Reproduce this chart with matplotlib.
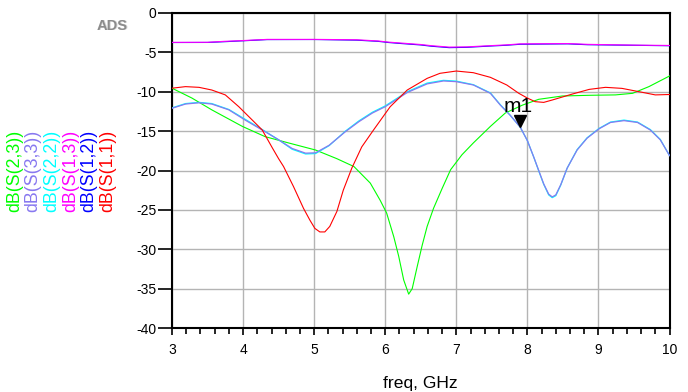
import numpy as np
import matplotlib
matplotlib.use('Agg')
import matplotlib.pyplot as plt
from matplotlib.ticker import MultipleLocator

plt.rcParams['font.family'] = ['Liberation Sans', 'DejaVu Sans']
plt.rcParams['axes.unicode_minus'] = False

# dB(S(2,3)) - green
f23 = [3.0, 3.28, 3.56, 3.99, 4.31, 4.64, 5.02, 5.32, 5.56, 5.79, 5.93, 6.02, 6.12, 6.19, 6.26, 6.33, 6.38, 6.45, 6.52, 6.59,
       6.68, 6.8, 6.92, 7.08, 7.24, 7.48, 7.69, 7.93, 8.16, 8.49, 8.87, 9.24, 9.48, 9.71, 10.0]
s23 = [-9.55, -10.8, -12.3, -14.4, -15.7, -16.5, -17.4, -18.5, -19.5, -21.6, -23.8, -25.4, -28.4, -30.9, -33.9, -35.7, -35.0, -32.2, -29.5, -27.1,
       -24.8, -22.3, -19.9, -18.0, -16.5, -14.4, -12.7, -11.7, -10.96, -10.54, -10.45, -10.4, -10.2, -9.35, -8.0]

# dB(S(3,3)) - purple, dB(S(2,2)) - cyan
f33 = [3.0, 3.19, 3.38, 3.56, 3.8, 4.03, 4.27, 4.5, 4.69, 4.88, 5.02, 5.21, 5.44, 5.63, 5.82, 6.0, 6.31, 6.59, 6.82, 7.0,
       7.24, 7.48, 7.62, 7.76, 7.9, 8.0, 8.09, 8.16, 8.23, 8.3, 8.35, 8.4, 8.47, 8.56, 8.7, 8.84, 9.01, 9.17, 9.36, 9.55,
       9.73, 9.87, 10.0]
s33 = [-12.1, -11.56, -11.4, -11.56, -12.3, -13.6, -14.86, -16.1, -17.2, -17.8, -17.75, -16.8, -15.07, -13.8, -12.7, -11.9, -10.1, -9.0, -8.63, -8.72,
       -9.14, -10.2, -11.7, -13.0, -14.5, -16.2, -18.3, -20.0, -21.7, -23.0, -23.35, -23.1, -21.8, -19.7, -17.4, -15.9, -14.7, -13.9, -13.67, -13.9,
       -14.86, -16.1, -18.1]
s22 = [-12.05, -11.5, -11.35, -11.5, -12.25, -13.5, -14.8, -16.1, -17.3, -17.9, -17.85, -16.85, -15.0, -13.7, -12.6, -11.8, -10.0, -8.9, -8.55, -8.65,
       -9.1, -10.15, -11.65, -13.0, -14.5, -16.2, -18.3, -20.05, -21.75, -23.1, -23.45, -23.2, -21.85, -19.7, -17.35, -15.85, -14.65, -13.85, -13.6, -13.85,
       -14.8, -16.05, -18.1]

# dB(S(1,3)) - magenta, dB(S(1,2)) - blue
f13 = [3.0, 3.5, 3.73, 4.0, 4.34, 5.0, 5.6, 5.9, 6.05, 6.2, 6.5, 6.65, 6.9, 7.15, 7.47, 7.7, 7.9, 8.57, 8.85, 9.5, 10.0]
s13 = [-3.73, -3.72, -3.6, -3.5, -3.35, -3.35, -3.4, -3.55, -3.7, -3.8, -4.0, -4.15, -4.33, -4.3, -4.15, -4.05, -3.92, -3.88, -3.98, -4.08, -4.12]
s12 = [-3.75, -3.74, -3.65, -3.53, -3.38, -3.37, -3.45, -3.6, -3.75, -3.86, -4.06, -4.22, -4.4, -4.36, -4.2, -4.1, -3.97, -3.92, -4.03, -4.1, -4.16]

# dB(S(1,1)) - red
f11 = [3.0, 3.19, 3.38, 3.56, 3.75, 3.94, 4.13, 4.27, 4.41, 4.5, 4.57, 4.71, 4.85, 4.94, 5.01, 5.08, 5.15, 5.22, 5.32, 5.41,
       5.53, 5.67, 5.84, 6.07, 6.31, 6.59, 6.77, 7.0, 7.24, 7.48, 7.71, 7.88, 8.0, 8.11, 8.23, 8.35, 8.63, 8.87, 9.1, 9.33,
       9.57, 9.8, 10.0]
s11 = [-9.55, -9.35, -9.44, -9.78, -10.4, -11.9, -13.6, -14.86, -17.1, -18.5, -19.5, -22.05, -24.8, -26.3, -27.35, -27.8, -27.8, -27.1, -25.2, -22.5,
       -19.7, -17.0, -14.8, -11.9, -9.78, -8.3, -7.66, -7.37, -7.58, -8.17, -9.14, -10.2, -10.8, -11.26, -11.35, -11.05, -10.3, -9.7, -9.44, -9.57,
       -9.99, -10.4, -10.35]

m1_freq = 7.895
m1_val = -13.7

names = ['dB(S(2,3))', 'dB(S(3,3))', 'dB(S(2,2))', 'dB(S(1,3))', 'dB(S(1,2))', 'dB(S(1,1))']
colors = ['#00ff00', '#8878f0', '#00ffff', '#ff00ff', '#0000ff', '#ff0000']

fig = plt.figure(figsize=(6.88, 3.92), dpi=100)
ax = fig.add_axes([172/688, 1-328/392, 497.5/688, 315/392])

lw = 0.8
ax.plot(f23, s23, color=colors[0], lw=lw, zorder=3)
ax.plot(f33, s22, color=colors[2], lw=0.9, zorder=3)
ax.plot(f33, s33, color=colors[1], lw=0.9, zorder=3)
ax.plot(f13, s12, color=colors[4], lw=lw, zorder=3)
ax.plot(f13, s13, color=colors[3], lw=lw, zorder=3)
ax.plot(f11, s11, color=colors[5], lw=lw, zorder=3)

# marker m1
ax.plot([m1_freq], [m1_val], marker='v', color='black', markersize=9, zorder=5)
ax.text(m1_freq - 0.03, -12.53, 'm1', fontsize=15, ha='center', va='baseline', color='black', zorder=5)

ax.set_xlim(3, 10)
ax.set_ylim(-40, 0)
ax.xaxis.set_major_locator(MultipleLocator(1))
ax.xaxis.set_minor_locator(MultipleLocator(0.2))
ax.yaxis.set_major_locator(MultipleLocator(5))
ax.grid(True, which='major', color='#b4b4b4', lw=1.0)
ax.set_axisbelow(True)
for s in ax.spines.values():
    s.set_linewidth(1.5)
    s.set_color('black')
ax.tick_params(axis='y', which='major', length=10, width=1.2, pad=1, labelsize=10)
ax.tick_params(axis='x', which='major', length=5, width=1.2, pad=6, labelsize=10)
ax.tick_params(axis='x', which='minor', length=4.5, width=1.2)

# rotated legend on the left
xs = [15, 33, 52, 71, 89, 108]
for n, c, xp in zip(names, colors, xs):
    fig.text(xp/688, 1-212/392, n, rotation=90, color=c, fontsize=12.8, ha='center', va='bottom')

fig.text(113.5/688, 1-26.5/392, 'ADS', color='#d8d8d8', fontsize=10.5, fontweight='bold', ha='center', va='center')
fig.text(112.5/688, 1-25.5/392, 'ADS', color='#8c8c8c', fontsize=10.5, fontweight='bold', ha='center', va='center')
fig.text(420.7/688, 1-376/392, 'freq, GHz', fontsize=12.6, ha='center', va='top')

fig.savefig('out.png', dpi=100)
